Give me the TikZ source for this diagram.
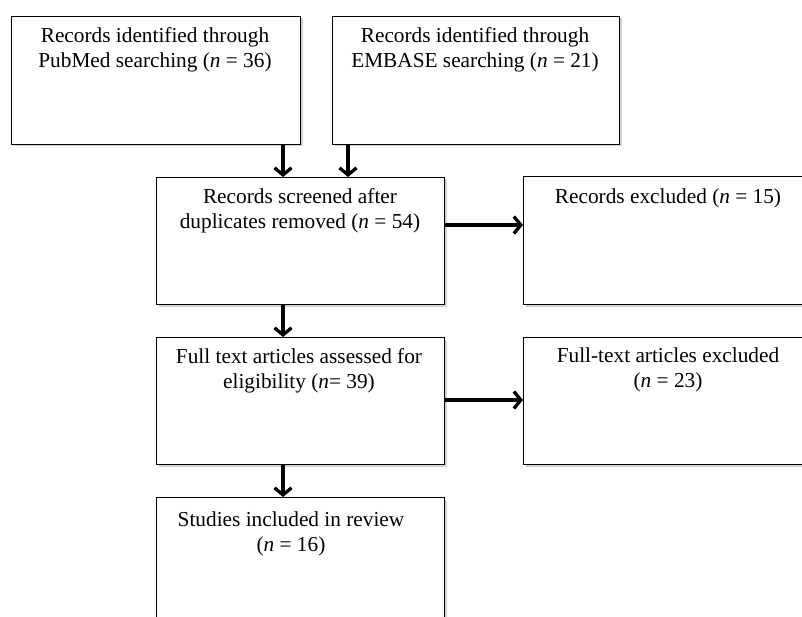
\documentclass[tikz,border=0pt]{standalone}
\usepackage{fontspec}
\setmainfont{Liberation Serif}
\usetikzlibrary{arrows.meta,shadows}
\begin{document}
\begin{tikzpicture}[x=1pt,y=-1pt,
  boxnode/.style={draw=black,line width=1.4pt,fill=white,anchor=north west,inner sep=0pt,
    drop shadow={shadow xshift=1.8pt,shadow yshift=-1.8pt,fill=black!35}},
  txt/.style={anchor=north,inner sep=0pt,align=center,font=\fontsize{21.3}{25}\selectfont},
  arr/.style={line width=3.3pt,-{Straight Barb[length=7pt,width=17pt]}}]
\clip (0,0) rectangle (802,617);
\fill[white] (0,0) rectangle (802,617);
% boxes
\node[boxnode,minimum width=289pt,minimum height=128pt] (b1) at (11,16) {};
\node[boxnode,minimum width=287pt,minimum height=128pt] (b2) at (332,16) {};
\node[boxnode,minimum width=288pt,minimum height=127pt] (b3) at (156,177) {};
\node[boxnode,minimum width=280pt,minimum height=128pt] (b4) at (523,176) {};
\node[boxnode,minimum width=288pt,minimum height=127pt] (b5) at (156,337) {};
\node[boxnode,minimum width=280pt,minimum height=127pt] (b6) at (523,337) {};
\node[boxnode,minimum width=288pt,minimum height=140pt] (b7) at (156,497) {};
% texts
\node[txt] (t1) at (155,27) {Records identified through\\PubMed searching (\textit{n} = 36)};
\node[txt] (t2) at (475,27) {Records identified through\\EMBASE searching (\textit{n} = 21)};
\node[txt] (t3) at (300,188) {Records screened after\\duplicates removed (\textit{n} = 54)};
\node[txt] (t4) at (668,189) {Records excluded (\textit{n} = 15)};
\node[txt] (t5) at (299,348) {Full text articles assessed for\\eligibility (\textit{n}= 39)};
\node[txt] (t6) at (668,348) {Full-text articles excluded\\(\textit{n} = 23)};
\node[txt] (t7) at (291,512) {Studies included in review\\(\textit{n} = 16)};
% connector guides
\coordinate (xa) at (283,0);
\coordinate (xb) at (348,0);
\coordinate (ya) at (0,225);
\coordinate (yb) at (0,400);
% connectors
\draw[arr] (b1.south -| xa) -- (b3.north -| xa);
\draw[arr] (b2.south -| xb) -- (b3.north -| xb);
\draw[arr] (b3.east |- ya) -- (b4.west |- ya);
\draw[arr] (b3.south -| xa) -- (b5.north -| xa);
\draw[arr] (b5.east |- yb) -- (b6.west |- yb);
\draw[arr] (b5.south -| xa) -- (b7.north -| xa);
\end{tikzpicture}
\end{document}
